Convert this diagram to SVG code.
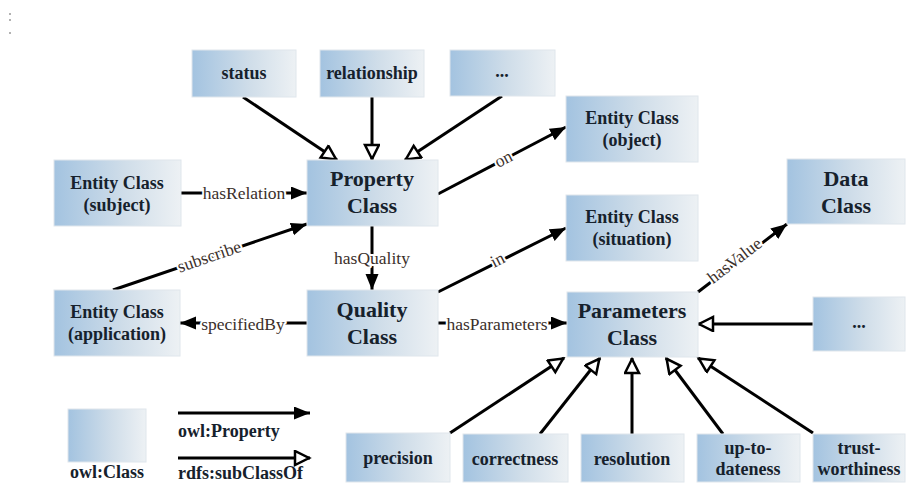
<svg xmlns="http://www.w3.org/2000/svg" width="907" height="484" viewBox="0 0 907 484">
<defs>
<linearGradient id="g" x1="0" y1="0" x2="1" y2="0">
<stop offset="0" stop-color="#a3c3e0"/>
<stop offset="0.55" stop-color="#cfdde9"/>
<stop offset="1" stop-color="#edf1f4"/>
</linearGradient>
<marker id="fa" markerUnits="userSpaceOnUse" markerWidth="18" markerHeight="14" refX="16" refY="6.5" orient="auto">
<path d="M0,0 L16,6.5 L0,13 z" fill="#000"/>
</marker>
<marker id="ha" markerUnits="userSpaceOnUse" markerWidth="20" markerHeight="18" refX="17" refY="8" orient="auto">
<path d="M2,1 L16,8 L2,15 z" fill="#fff" stroke="#000" stroke-width="2.5"/>
</marker>
<style>
.box{fill:url(#g);stroke:#dfe6ec;stroke-width:1}
.t{font-family:"Liberation Serif","Times New Roman",serif;font-weight:bold;font-size:18px;fill:#16212c;text-anchor:middle}
.tl{font-family:"Liberation Serif","Times New Roman",serif;font-weight:bold;font-size:22px;fill:#16212c;text-anchor:middle}
.e{stroke:#000;stroke-width:3;fill:none}
.f{marker-end:url(#fa)}
.h{marker-end:url(#ha)}
.lb{font-family:"Liberation Serif","Times New Roman",serif;font-size:17.5px;fill:#3b302b;text-anchor:middle;stroke:#fff;stroke-width:4;paint-order:stroke;stroke-linejoin:round}
.lg{font-family:"Liberation Serif","Times New Roman",serif;font-weight:bold;font-size:18px;fill:#16212c}
</style>
</defs>
<rect width="907" height="484" fill="#fff"/>
<g id="marks" fill="#999">
<circle cx="10" cy="14" r="1"/><circle cx="10" cy="20" r="1"/><circle cx="10" cy="33" r="1"/>
</g>

<g id="connectors">
<line class="e h" x1="243" y1="97" x2="337" y2="160"/>
<line class="e h" x1="372" y1="97" x2="372" y2="160"/>
<line class="e h" x1="502" y1="96" x2="405" y2="160"/>
<line class="e f" x1="181" y1="193" x2="307" y2="193"/>
<line class="e f" x1="438" y1="194" x2="566" y2="127"/>
<line class="e f" x1="113" y1="290" x2="307" y2="224"/>
<line class="e f" x1="372" y1="226" x2="372" y2="290"/>
<line class="e f" x1="307" y1="323" x2="180" y2="323"/>
<line class="e f" x1="438" y1="292" x2="566" y2="228"/>
<line class="e f" x1="438" y1="323" x2="567" y2="323"/>
<line class="e f" x1="698" y1="292" x2="787" y2="224"/>
<line class="e h" x1="813" y1="324" x2="698" y2="324"/>
<line class="e h" x1="450" y1="433" x2="564" y2="358"/>
<line class="e h" x1="540" y1="434" x2="600" y2="358"/>
<line class="e h" x1="632" y1="434" x2="632" y2="358"/>
<line class="e h" x1="723" y1="434" x2="666" y2="358"/>
<line class="e h" x1="813" y1="433" x2="698" y2="358"/>
<text class="lb" x="244" y="199">hasRelation</text>
<text class="lb" x="372" y="264">hasQuality</text>
<text class="lb" x="243" y="330">specifiedBy</text>
<text class="lb" x="497" y="330">hasParameters</text>
<text class="lb" transform="translate(506,164) rotate(-27.6)">on</text>
<text class="lb" transform="translate(211,262) rotate(-18.8)">subscribe</text>
<text class="lb" transform="translate(500,265) rotate(-26.6)">in</text>
<text class="lb" transform="translate(738,265) rotate(-37.4)">hasValue</text>
</g>

<g id="status"><rect class="box" x="192" y="50" width="104" height="47"/><text class="t" x="244" y="79">status</text></g>
<g id="relationship"><rect class="box" x="320" y="50" width="104" height="47"/><text class="t" x="372" y="79">relationship</text></g>
<g id="more-top"><rect class="box" x="450" y="50" width="105" height="46"/><text class="t" x="502" y="77">...</text></g>
<g id="entity-object"><rect class="box" x="566" y="96" width="132" height="66"/><text class="t" x="632" y="124">Entity Class</text><text class="t" x="632" y="146">(object)</text></g>
<g id="data"><rect class="box" x="787" y="159" width="118" height="65"/><text class="tl" x="846" y="186">Data</text><text class="tl" x="846" y="213">Class</text></g>
<g id="entity-situation"><rect class="box" x="566" y="195" width="132" height="66"/><text class="t" x="632" y="223">Entity Class</text><text class="t" x="632" y="245">(situation)</text></g>
<g id="entity-subject"><rect class="box" x="54" y="160" width="127" height="66"/><text class="t" x="117" y="189">Entity Class</text><text class="t" x="117" y="211">(subject)</text></g>
<g id="property"><rect class="box" x="307" y="160" width="131" height="66"/><text class="tl" x="372" y="186">Property</text><text class="tl" x="372" y="213">Class</text></g>
<g id="entity-application"><rect class="box" x="54" y="290" width="126" height="66"/><text class="t" x="117" y="318">Entity Class</text><text class="t" x="117" y="340">(application)</text></g>
<g id="quality"><rect class="box" x="307" y="290" width="131" height="66"/><text class="tl" x="372" y="317">Quality</text><text class="tl" x="372" y="344">Class</text></g>
<g id="parameters"><rect class="box" x="567" y="292" width="131" height="65"/><text class="tl" x="632" y="318">Parameters</text><text class="tl" x="632" y="345">Class</text></g>
<g id="more-right"><rect class="box" x="813" y="297" width="92" height="54"/><text class="t" x="859" y="328">...</text></g>
<g id="precision"><rect class="box" x="346" y="433" width="104" height="49"/><text class="t" x="398" y="464">precision</text></g>
<g id="correctness"><rect class="box" x="463" y="434" width="105" height="48"/><text class="t" x="515" y="465">correctness</text></g>
<g id="resolution"><rect class="box" x="581" y="434" width="103" height="48"/><text class="t" x="632" y="465">resolution</text></g>
<g id="up-to-dateness"><rect class="box" x="697" y="434" width="103" height="48"/><text class="t" x="748" y="454">up-to-</text><text class="t" x="748" y="475">dateness</text></g>
<g id="trust-worthiness"><rect class="box" x="813" y="434" width="92" height="48"/><text class="t" x="859" y="454">trust-</text><text class="t" x="859" y="475">worthiness</text></g>

<g id="legend">
<rect class="box" x="68" y="409" width="78" height="53"/>
<text class="lg" x="107" y="478" text-anchor="middle">owl:Class</text>
<line class="e f" x1="178" y1="413" x2="310" y2="413"/>
<text class="lg" x="178" y="437">owl:Property</text>
<line class="e h" x1="178" y1="458" x2="310" y2="458"/>
<text class="lg" x="178" y="479">rdfs:subClassOf</text>
</g>
</svg>
